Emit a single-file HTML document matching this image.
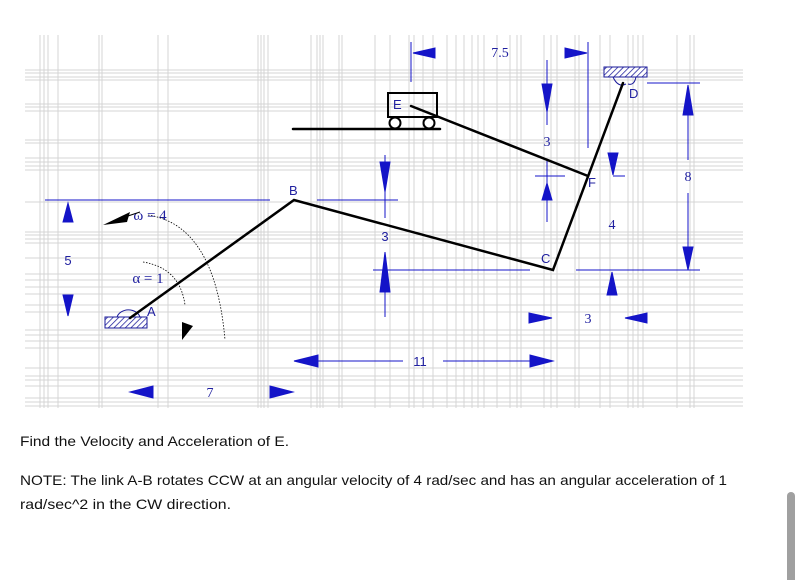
<!DOCTYPE html>
<html><head><meta charset="utf-8"><style>html,body{margin:0;padding:0;background:#fff;width:800px;height:580px;overflow:hidden}</style></head>
<body>
<svg width="800" height="580" viewBox="0 0 800 580" xmlns="http://www.w3.org/2000/svg">
<g stroke="#d4d4d4" stroke-width="1">
<path d="M40 35V408M44 35V408M48 35V408M58 35V408M99 35V408M102 35V408M158 35V408M168 35V408M258 35V408M261 35V408M264 35V408M268 35V408M311 35V408M317 35V408M320 35V408M323 35V408M339 35V408M342 35V408M375 35V408M390 35V408M409 35V408M414 35V408M423 35V408M433 35V408M447 35V408M456 35V408M464 35V408M472 35V408M478 35V408M484 35V408M497 35V408M510 35V408M517 35V408M521 35V408M544 35V408M551 35V408M557 35V408M575 35V408M579 35V408M600 35V408M610 35V408M628 35V408M633 35V408M638 35V408M643 35V408M677 35V408M690 35V408M694 35V408"/>
<path d="M25 70H743M25 73H743M25 77H743M25 80H743M25 104H743M25 107H743M25 111H743M25 140H743M25 143H743M25 158H743M25 162H743M25 166H743M25 170H743M25 202H743M25 232H743M25 235H743M25 239H743M25 243H743M25 258H743M25 274H743M25 280H743M25 287H743M25 294H743M25 305H743M25 312H743M25 330H743M25 335H743M25 341H743M25 348H743M25 368H743M25 376H743M25 380H743M25 386H743M25 398H743M25 402H743M25 406H743"/>
</g>
<defs><pattern id="h" width="4" height="4" patternUnits="userSpaceOnUse" patternTransform="rotate(45)"><rect width="4" height="4" fill="#fff"/><line x1="0" y1="0" x2="0" y2="4" stroke="#1a1a9a" stroke-width="1.5"/></pattern></defs>
<g fill="#1414c8" stroke="#1414c8" stroke-width="1">
<line x1="45" y1="200" x2="270" y2="200"/>
<polygon points="68,203 63,222 73,222"/><polygon points="68,316 63,295 73,295"/>
<polygon points="130,392 153,386 153,398"/><polygon points="293,392 270,386 270,398"/>
<polygon points="294,361 318,355 318,367"/><line x1="318" y1="361" x2="403" y2="361"/><line x1="443" y1="361" x2="530" y2="361"/><polygon points="553,361 530,355 530,367"/>
<line x1="385" y1="155" x2="385" y2="218"/><polygon points="385,192 380,162 390,162"/>
<line x1="317" y1="200" x2="398" y2="200"/><line x1="373" y1="270" x2="530" y2="270"/>
<line x1="385" y1="252" x2="385" y2="317"/><polygon points="385,252 380,292 390,292"/>
<line x1="411" y1="42" x2="411" y2="82"/><polygon points="413,53 435,48 435,58"/>
<polygon points="587,53 565,48 565,58"/><line x1="588" y1="42" x2="588" y2="148"/>
<line x1="547" y1="60" x2="547" y2="125"/><polygon points="547,112 542,84 552,84"/>
<line x1="535" y1="176" x2="565" y2="176"/><line x1="547" y1="160" x2="547" y2="222"/><polygon points="547,183 542,200 552,200"/>
<polygon points="613,175 608,153 618,153"/><line x1="613" y1="176" x2="625" y2="176"/>
<line x1="576" y1="270" x2="700" y2="270"/><polygon points="612,272 607,295 617,295"/>
<polygon points="552,318 529,313 529,323"/><polygon points="625,318 647,313 647,323"/>
<line x1="647" y1="83" x2="700" y2="83"/><line x1="688" y1="85" x2="688" y2="160"/><line x1="688" y1="193" x2="688" y2="270"/>
<polygon points="688,85 683,115 693,115"/><polygon points="688,270 683,247 693,247"/>
</g>
<g font-family="Liberation Serif, serif" font-size="14" fill="#2020a0" text-anchor="middle">
<text x="68" y="265" font-family="Liberation Sans, sans-serif" font-size="13">5</text>
<text x="210" y="397">7</text>
<text x="420" y="366" font-family="Liberation Sans, sans-serif" font-size="13">11</text>
<text x="385" y="241" font-family="Liberation Sans, sans-serif" font-size="13">3</text>
<text x="500" y="57">7.5</text>
<text x="547" y="146">3</text>
<text x="612" y="229">4</text>
<text x="588" y="323">3</text>
<text x="688" y="181">8</text>
<text x="150" y="220" font-size="15">ω = 4</text>
<text x="148" y="283" font-size="15">α = 1</text>
</g>
<g font-family="Liberation Sans, sans-serif" font-size="13" fill="#2020a0">
<text x="289" y="195">B</text><text x="147" y="316">A</text><text x="541" y="263">C</text><text x="588" y="187">F</text><text x="629" y="98">D</text><text x="393" y="109">E</text>
</g>
<g fill="none" stroke="#000" stroke-width="0.8" stroke-dasharray="1.5,1.5">
<path d="M148 215 Q215 225 225 340"/>
<path d="M143 262 Q180 268 185 305"/>
</g>
<polygon points="103,225 130,212 127,222" fill="#000"/><line x1="125" y1="217" x2="140" y2="212" stroke="#000"/>
<polygon points="182,340 182,322 193,326" fill="#000"/>
<path d="M117 317 A12 10 0 0 1 140 317" fill="none" stroke="#1a1a9a"/>
<rect x="105" y="317" width="42" height="11" fill="url(#h)" stroke="#1a1a9a"/>
<rect x="604" y="67" width="43" height="10" fill="url(#h)" stroke="#1a1a9a"/>
<path d="M613 77 Q618 88 626 84 M628 84 Q634 86 636 77" fill="none" stroke="#1a1a9a"/>
<g stroke="#000" stroke-width="2.5" fill="none" stroke-linecap="round">
<polyline points="130,318 294,200 553,270 623,83"/>
<line x1="411" y1="106" x2="588" y2="176"/>
<line x1="293" y1="129" x2="440" y2="129"/>
</g>
<rect x="388" y="93" width="49" height="24" fill="none" stroke="#000" stroke-width="2"/>
<circle cx="395" cy="123" r="5.5" fill="#fff" stroke="#000" stroke-width="2"/>
<circle cx="429" cy="123" r="5.5" fill="#fff" stroke="#000" stroke-width="2"/>
<g font-family="Liberation Sans, sans-serif" font-size="14" fill="#111">
<text x="20" y="446" textLength="269" lengthAdjust="spacingAndGlyphs">Find the Velocity and Acceleration of E.</text>
<text x="20" y="485" textLength="707" lengthAdjust="spacingAndGlyphs">NOTE: The link A-B rotates CCW at an angular velocity of 4 rad/sec and has an angular acceleration of 1</text>
<text x="20" y="509" textLength="211" lengthAdjust="spacingAndGlyphs">rad/sec^2 in the CW direction.</text>
</g>
<rect x="787" y="492" width="8" height="95" rx="4" fill="#a0a0a0"/>
</svg>
</body></html>
